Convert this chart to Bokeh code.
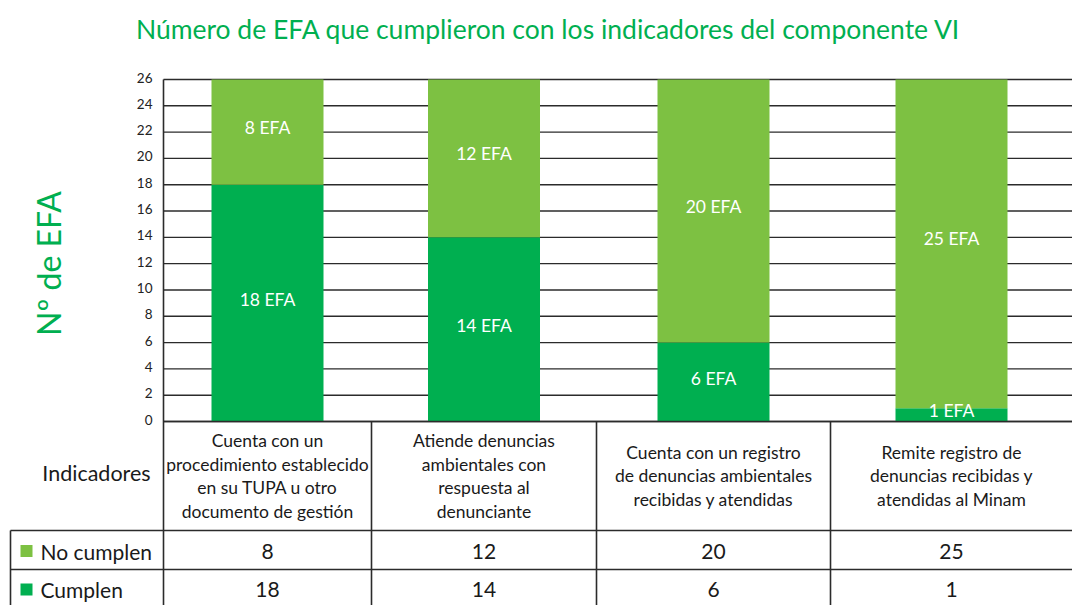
from bokeh.plotting import figure
from bokeh.models import ColumnDataSource, Range1d
from bokeh.core.properties import value
from bokeh.embed import file_html
from bokeh.resources import INLINE

# ---------------- data ----------------
title_text = "Número de EFA que cumplieron con los indicadores del componente VI"
y_label = "Nº de EFA"
indicadores = [
    "Cuenta con un\nprocedimiento establecido\nen su TUPA u otro\ndocumento de gestión",
    "Atiende denuncias\nambientales con\nrespuesta al\ndenunciante",
    "Cuenta con un registro\nde denuncias ambientales\nrecibidas y atendidas",
    "Remite registro de\ndenuncias recibidas y\natendidas al Minam",
]
cumplen = [18, 14, 6, 1]
no_cumplen = [8, 12, 20, 25]
series_names = ["No cumplen", "Cumplen"]
y_ticks = list(range(0, 27, 2))
y_tick_labels = [str(t) for t in y_ticks]

# ---------------- styles / layout ----------------
FONT = "Lato"
GREEN_DARK = "#00AF50"
GREEN_LIGHT = "#7DC142"
LINE = "#2b2b2b"
TXT = "#1a1a1a"
W, H = 1072, 605
plot_left, plot_right = 163, 1072
col_edges = [163, 371, 596, 830, 1072]
bar_width = 112
zero_px, top_px = 421, 79          # pixel rows of y=0 and y=26
y_max = 26
px_per_unit = (zero_px - top_px) / y_max
header_bottom, row1_bottom = 530, 569

p = figure(width=W, height=H, output_backend="svg", toolbar_location=None,
           min_border=0, x_range=Range1d(0, W),
           y_range=Range1d(-(H - zero_px) / px_per_unit, y_max + top_px / px_per_unit))
p.extra_y_ranges = {"px": Range1d(H, 0)}
p.axis.visible = False
p.grid.visible = False
p.outline_line_color = None
p.background_fill_color = "white"
p.border_fill_color = "white"

centers = [(col_edges[i] + col_edges[i + 1]) / 2 for i in range(4)]
tot = [c + n for c, n in zip(cumplen, no_cumplen)]
row_mid = [(header_bottom + row1_bottom) / 2 + 1, (row1_bottom + H + 6) / 2 - 1]
src = ColumnDataSource(dict(
    x=centers, cumplen=cumplen, no_cumplen=no_cumplen, tot=tot,
    c_mid=[c / 2 for c in cumplen],
    n_mid=[c + n / 2 for c, n in zip(cumplen, no_cumplen)],
    c_lab=[f"{c} EFA" for c in cumplen],
    n_lab=[f"{n} EFA" for n in no_cumplen],
    c_txt=[str(c) for c in cumplen],
    n_txt=[str(n) for n in no_cumplen],
    ind=indicadores,
))

# gridlines from tick list
p.segment(x0=plot_left, x1=plot_right, y0=y_ticks, y1=y_ticks, line_color=LINE, line_width=1.4)

# bars
p.vbar(x="x", width=bar_width, bottom=0, top="cumplen", source=src, fill_color=GREEN_DARK, line_color=None)
p.vbar(x="x", width=bar_width, bottom="cumplen", top="tot", source=src, fill_color=GREEN_LIGHT, line_color=None)

# bar labels
p.text(x="x", y="c_mid", text="c_lab", source=src, text_color="white", text_font=value(FONT),
       text_font_size="17.5px", text_align="center", text_baseline="middle", y_offset=-4)
p.text(x="x", y="n_mid", text="n_lab", source=src, text_color="white", text_font=value(FONT),
       text_font_size="17.5px", text_align="center", text_baseline="middle", y_offset=-5)

# y tick labels
p.text(x=[plot_left - 11] * len(y_ticks), y=y_ticks, text=y_tick_labels, text_color="#222222",
       text_font=value(FONT), text_font_size="13.5px", text_align="right", text_baseline="middle",
       y_offset=-2)

# y axis label
p.text(x=[48], y=[263], text=[y_label], angle=1.5708, y_range_name="px", text_color=GREEN_DARK,
       text_font=value(FONT), text_font_size="32px", text_align="center", text_baseline="middle")

# title
p.text(x=[548], y=[28], text=[title_text], y_range_name="px", text_color=GREEN_DARK,
       text_font=value(FONT), text_font_size="26.5px", text_align="center", text_baseline="middle")

# table lines
p.segment(x0=[plot_left, 10, 10], x1=[W, W, W], y0=[zero_px, header_bottom, row1_bottom],
          y1=[zero_px, header_bottom, row1_bottom], y_range_name="px", line_color=LINE, line_width=1.6)
p.segment(x0=[10, plot_left] + col_edges[1:4], x1=[10, plot_left] + col_edges[1:4],
          y0=[header_bottom, top_px] + [zero_px] * 3, y1=[H] * 5, y_range_name="px",
          line_color=LINE, line_width=1.6)

# header texts
p.text(x="x", y=(zero_px + header_bottom) / 2, text="ind", source=src, y_range_name="px",
       text_color=TXT, text_font=value(FONT), text_font_size="17.5px", text_align="center",
       text_baseline="middle", text_line_height=1.12)
p.text(x=[96], y=[472], text=["Indicadores"], y_range_name="px", text_color=TXT,
       text_font=value(FONT), text_font_size="21.5px", text_align="center", text_baseline="middle")

# legend cells
p.rect(x=[26, 26], y=row_mid, width=12, height=12, y_range_name="px",
       fill_color=[GREEN_LIGHT, GREEN_DARK], line_color=None)
p.text(x=[40, 40], y=row_mid, text=series_names, y_range_name="px", text_color=TXT,
       text_font=value(FONT), text_font_size="21px", text_align="left", text_baseline="middle")

# values
p.text(x="x", y=row_mid[0], text="n_txt", source=src, y_range_name="px", text_color=TXT,
       text_font=value(FONT), text_font_size="21px", text_align="center", text_baseline="middle")
p.text(x="x", y=row_mid[1], text="c_txt", source=src, y_range_name="px", text_color=TXT,
       text_font=value(FONT), text_font_size="21px", text_align="center", text_baseline="middle")

open("out.html", "w").write(file_html(p, INLINE))
